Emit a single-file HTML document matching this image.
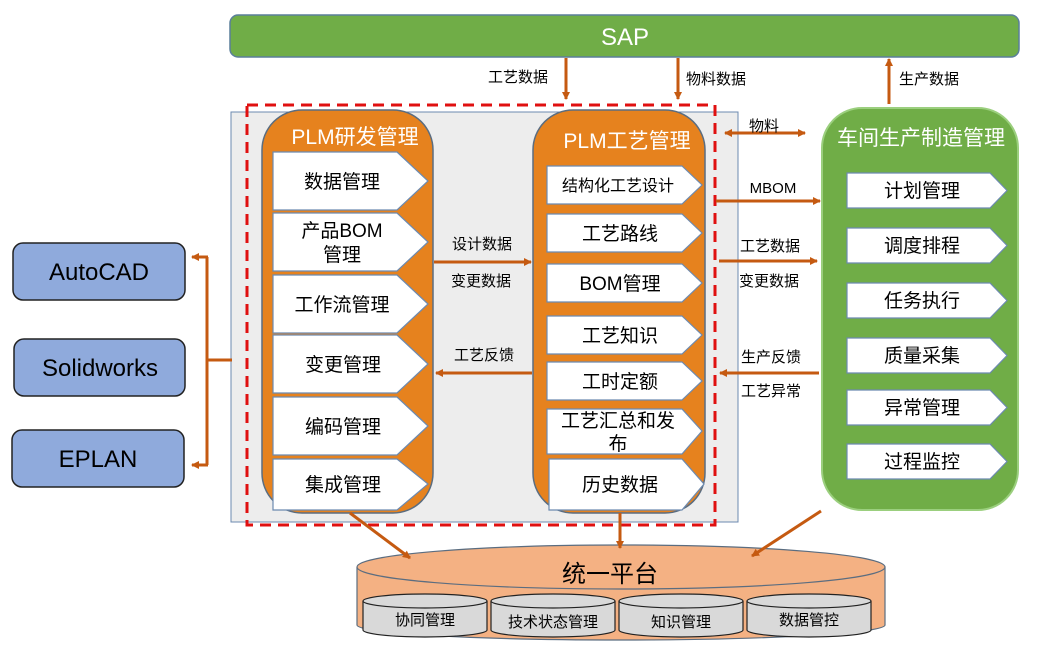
<!DOCTYPE html>
<html><head><meta charset="utf-8"><style>
html,body{margin:0;padding:0;background:#fff;}
svg text{font-family:"Liberation Sans","Noto Sans CJK SC",sans-serif;}
</style></head><body>
<svg width="1042" height="661" viewBox="0 0 1042 661" xmlns="http://www.w3.org/2000/svg">
<defs>
<marker id="a" markerWidth="8" markerHeight="8" refX="7" refY="4" orient="auto" markerUnits="userSpaceOnUse"><path d="M0,0 L8,4 L0,8 Z" fill="#c55a11"/></marker>
<marker id="as" markerWidth="8" markerHeight="8" refX="1" refY="4" orient="auto" markerUnits="userSpaceOnUse"><path d="M8,0 L0,4 L8,8 Z" fill="#c55a11"/></marker>
</defs>
<!-- SAP -->
<rect x="230" y="15" width="789" height="42" rx="8" fill="#70ad47" stroke="#5a7f9a" stroke-width="1.5"/>
<text x="625" y="45" font-size="24" fill="#fff" text-anchor="middle">SAP</text>
<g stroke="#c55a11" stroke-width="3" fill="none">
<line x1="566" y1="58" x2="566" y2="99" marker-end="url(#a)"/>
<line x1="678" y1="58" x2="678" y2="99" marker-end="url(#a)"/>
<line x1="889" y1="104" x2="889" y2="59" marker-end="url(#a)"/>
</g>
<g font-size="15" fill="#000">
<text x="488" y="82">工艺数据</text>
<text x="686" y="84">物料数据</text>
<text x="899" y="84">生产数据</text>
</g>
<!-- gray panel -->
<rect x="231" y="112" width="507" height="410" fill="#ededed" stroke="#6c8ab0" stroke-width="1"/>
<!-- left orange -->
<rect x="262" y="110" width="171" height="403" rx="40" fill="#e6821e" stroke="#5b6d80" stroke-width="1.5"/>
<text x="355" y="144" font-size="21" fill="#fff" text-anchor="middle">PLM研发管理</text>
<g fill="#fff" stroke="#6c8ab0" stroke-width="1.2">
<path d="M273,152 H397 L428,181 L397,210 H273 Z"/>
<path d="M273,213 H397 L428,242 L397,271 H273 Z"/>
<path d="M273,275 H397 L428,304 L397,333 H273 Z"/>
<path d="M273,335 H397 L428,364 L397,393 H273 Z"/>
<path d="M273,397 H397 L428,426 L397,455 H273 Z"/>
<path d="M273,459 H397 L428,484 L397,510 H273 Z"/>
</g>
<g font-size="19" fill="#000" text-anchor="middle">
<text x="342" y="188">数据管理</text>
<text x="342" y="237">产品BOM</text>
<text x="342" y="261">管理</text>
<text x="342" y="311">工作流管理</text>
<text x="343" y="371">变更管理</text>
<text x="343" y="433">编码管理</text>
<text x="343" y="491">集成管理</text>
</g>
<!-- middle orange -->
<rect x="533" y="110" width="172" height="403" rx="40" fill="#e6821e" stroke="#5b6d80" stroke-width="1.5"/>
<text x="627" y="148" font-size="21" fill="#fff" text-anchor="middle">PLM工艺管理</text>
<g fill="#fff" stroke="#6c8ab0" stroke-width="1.2">
<path d="M547,166 H682 L702,185 L682,204 H547 Z"/>
<path d="M547,214 H682 L702,233 L682,252 H547 Z"/>
<path d="M547,264 H682 L702,283 L682,302 H547 Z"/>
<path d="M547,316 H682 L702,335 L682,354 H547 Z"/>
<path d="M547,362 H682 L702,381 L682,400 H547 Z"/>
<path d="M547,409 H682 L702,431 L682,454 H547 Z"/>
<path d="M549,459 H682 L704,484 L682,510 H549 Z"/>
</g>
<g fill="#000" text-anchor="middle">
<text x="618" y="191" font-size="16">结构化工艺设计</text>
<text x="620" y="240" font-size="19">工艺路线</text>
<text x="620" y="290" font-size="19">BOM管理</text>
<text x="620" y="342" font-size="19">工艺知识</text>
<text x="620" y="388" font-size="19">工时定额</text>
<text x="618" y="427" font-size="19">工艺汇总和发</text>
<text x="618" y="450" font-size="19">布</text>
<text x="620" y="491" font-size="19">历史数据</text>
</g>
<!-- red dashed -->
<rect x="247" y="105" width="468" height="420" fill="none" stroke="#e01010" stroke-width="3" stroke-dasharray="11,7"/>
<!-- middle arrows -->
<g stroke="#c55a11" stroke-width="3" fill="none">
<line x1="434" y1="262" x2="531" y2="262" marker-end="url(#a)"/>
<line x1="532" y1="373" x2="436" y2="373" marker-end="url(#a)"/>
<line x1="725" y1="133" x2="805" y2="133" marker-end="url(#a)" marker-start="url(#as)"/>
<line x1="716" y1="201" x2="820" y2="201" marker-end="url(#a)"/>
<line x1="719" y1="261" x2="817" y2="261" marker-end="url(#a)"/>
<line x1="819" y1="373" x2="720" y2="373" marker-end="url(#a)"/>
</g>
<g font-size="15" fill="#000" text-anchor="middle">
<text x="482" y="249">设计数据</text>
<text x="481" y="286">变更数据</text>
<text x="484" y="360">工艺反馈</text>
<text x="764" y="131">物料</text>
<text x="773" y="193">MBOM</text>
<text x="770" y="251">工艺数据</text>
<text x="769" y="286">变更数据</text>
<text x="771" y="362">生产反馈</text>
<text x="771" y="396">工艺异常</text>
</g>
<!-- green panel -->
<rect x="822" y="108" width="196" height="402" rx="40" fill="#70ad47" stroke="#9bcf7e" stroke-width="2"/>
<text x="921" y="145" font-size="21" fill="#fff" text-anchor="middle">车间生产制造管理</text>
<g fill="#fff" stroke="#6c8ab0" stroke-width="1.2">
<path d="M847,173 H990 L1007,190.5 L990,208 H847 Z"/>
<path d="M847,228 H990 L1007,245.5 L990,263 H847 Z"/>
<path d="M847,283 H990 L1007,300.5 L990,318 H847 Z"/>
<path d="M847,338 H990 L1007,355.5 L990,373 H847 Z"/>
<path d="M847,390 H990 L1007,407.5 L990,425 H847 Z"/>
<path d="M847,444 H990 L1007,461.5 L990,479 H847 Z"/>
</g>
<g font-size="19" fill="#000" text-anchor="middle">
<text x="922" y="197">计划管理</text>
<text x="922" y="252">调度排程</text>
<text x="922" y="307">任务执行</text>
<text x="922" y="362">质量采集</text>
<text x="922" y="414">异常管理</text>
<text x="922" y="468">过程监控</text>
</g>
<!-- left boxes -->
<g fill="#8faadc" stroke="#222" stroke-width="1.5">
<rect x="13" y="243" width="172" height="57" rx="10"/>
<rect x="14" y="339" width="171" height="57" rx="10"/>
<rect x="12" y="430" width="172" height="57" rx="10"/>
</g>
<g font-size="24" fill="#000" text-anchor="middle">
<text x="99" y="280">AutoCAD</text>
<text x="100" y="376">Solidworks</text>
<text x="98" y="467">EPLAN</text>
</g>
<g stroke="#c55a11" stroke-width="3" fill="none">
<path d="M207,257 V465 M207,360 H232"/>
<line x1="208" y1="257" x2="192" y2="257" marker-end="url(#a)"/>
<line x1="208" y1="465" x2="192" y2="465" marker-end="url(#a)"/>
</g>
<!-- cylinder -->
<path d="M357,567 V625 A264,15 0 0 0 885,625 V567" fill="#f4b183" stroke="#5b6d80" stroke-width="1.2"/>
<ellipse cx="621" cy="567" rx="264" ry="22" fill="#f4b183" stroke="#5b6d80" stroke-width="1.2"/>
<text x="610" y="582" font-size="24" fill="#000" text-anchor="middle">统一平台</text>
<g fill="#d9d9d9" stroke="#222" stroke-width="1.2">
<path d="M363,601 V630 A62,7 0 0 0 487,630 V601"/><ellipse cx="425" cy="601" rx="62" ry="7"/>
<path d="M491,601 V630 A62,7 0 0 0 615,630 V601"/><ellipse cx="553" cy="601" rx="62" ry="7"/>
<path d="M619,601 V630 A62,7 0 0 0 743,630 V601"/><ellipse cx="681" cy="601" rx="62" ry="7"/>
<path d="M747,601 V630 A62,7 0 0 0 871,630 V601"/><ellipse cx="809" cy="601" rx="62" ry="7"/>
</g>
<g font-size="15" fill="#000" text-anchor="middle">
<text x="425" y="625">协同管理</text>
<text x="553" y="627">技术状态管理</text>
<text x="681" y="627">知识管理</text>
<text x="809" y="625">数据管控</text>
</g>
<g stroke="#c55a11" stroke-width="3" fill="none">
<line x1="350" y1="513" x2="410" y2="558" marker-end="url(#a)"/>
<line x1="620" y1="513" x2="620" y2="548" marker-end="url(#a)"/>
<line x1="821" y1="511" x2="752" y2="556" marker-end="url(#a)"/>
</g>
</svg>
</body></html>
